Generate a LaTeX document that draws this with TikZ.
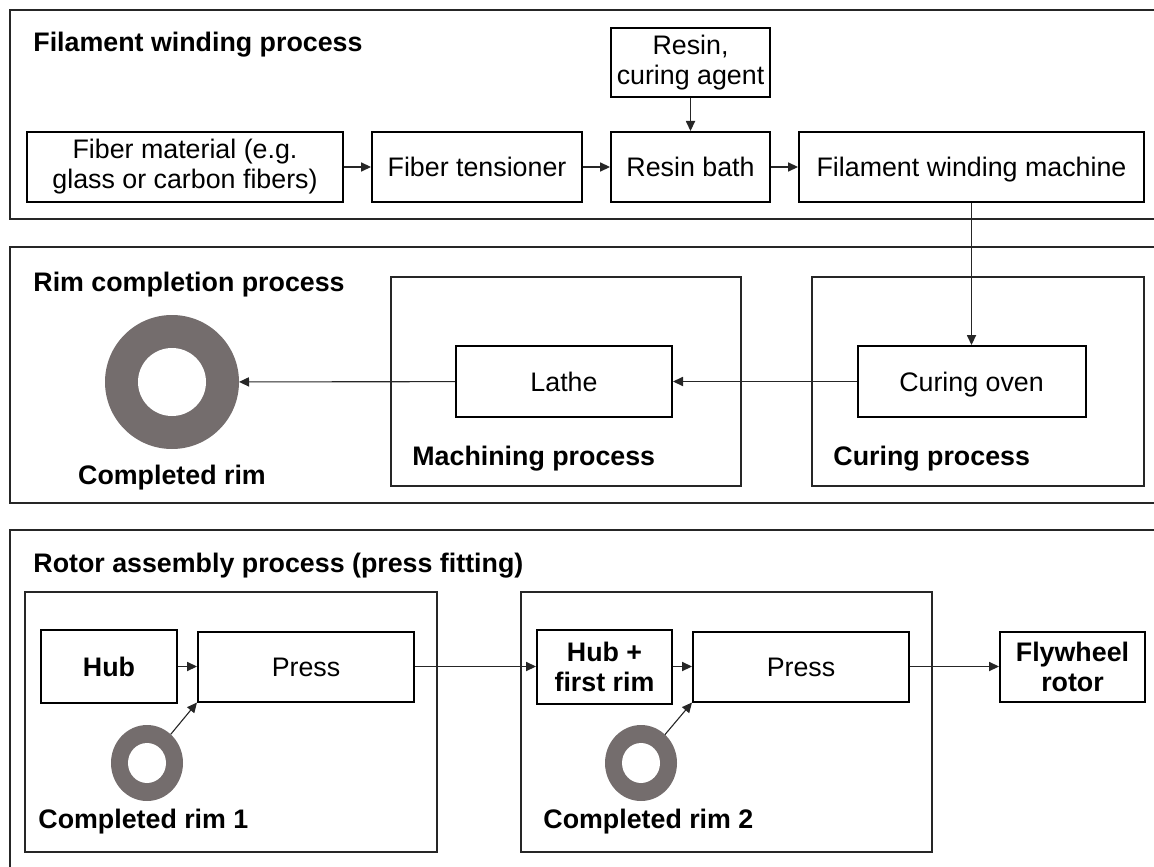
\documentclass[tikz,border=0pt]{standalone}
\usepackage{fontspec}
\setmainfont{Liberation Sans}
\usetikzlibrary{arrows.meta,positioning,shapes.geometric}
\definecolor{rimgray}{RGB}{116,109,109}

\begin{document}
\begin{tikzpicture}[
  x=0.5pt, y=-0.5pt,
  font=\fontsize{13.4}{15}\selectfont,
  box/.style={draw, line width=1pt, inner sep=2pt, align=center, minimum height=35pt},
  sbox/.style={box, text height=9.6pt, text depth=0pt},
  bbox/.style={box, font=\fontsize{13.4}{15}\selectfont\bfseries},
  hd/.style={inner sep=0pt, font=\fontsize{13.4}{15}\selectfont\bfseries},
  frm/.style={draw=black!85, line width=1pt},
  rim/.style={fill=rimgray, inner sep=0pt, outer sep=0pt},
  hole/.style={path picture={\fill[white] (path picture bounding box.center) ellipse [x radius=#1];}},
  >={Triangle[length=5pt,width=4.6pt]},
  every edge/.style={draw, ->, line width=0.55pt, black!85},
  node distance=13.5pt,
]
\useasboundingbox (0,0) rectangle (1154,866);
\clip (0,0) rectangle (1154,866);

\draw[frm] (10,10) rectangle (1170,219);
\draw[frm] (10,247) rectangle (1170,503);
\draw[frm] (10,530) rectangle (1170,900);
\draw[frm] (391,277) rectangle (741,486);
\draw[frm] (812,277) rectangle (1144,486);
\draw[frm] (25,592) rectangle (437,852);
\draw[frm] (521,592) rectangle (932,852);

\node[hd, anchor=base west] (fwtitle) at (33,52) {Filament winding process};
\node[box, minimum width=158pt] (fiber) at (185,167) {Fiber material (e.g.\\glass or carbon fibers)};
\node[sbox, minimum width=105pt, right=of fiber] (tens) {Fiber tensioner};
\node[sbox, minimum width=79.5pt, right=of tens] (bath) {Resin bath};
\node[sbox, minimum width=172.5pt, right=of bath] (fwm) {Filament winding machine};
\node[box, minimum width=79.5pt, minimum height=34.5pt, above=16.5pt of bath] (resin) {Resin,\\curing agent};
\foreach \a/\b in {fiber/tens,tens/bath,bath/fwm,resin/bath} { \draw (\a) edge (\b); }

\node[hd, anchor=base west] (rctitle) at (33,291) {Rim completion process};
\node[circle, rim, minimum size=67pt, hole={17pt, y radius=17pt}] (rimc) at (172,382) {};
\node[hd, anchor=base] (rimlbl) at (172,484) {Completed rim};
\node[sbox, minimum width=108pt, minimum height=35.5pt] (lathe) at (564,381.5) {Lathe};
\node[hd, anchor=base west] (machlbl) at (412,465) {Machining process};
\node[sbox, minimum width=114pt, minimum height=35.5pt] (oven) at (971.5,381.5) {Curing oven};
\node[hd, anchor=base west] (curelbl) at (833,465) {Curing process};
\foreach \a/\b in {fwm/oven,oven/lathe,lathe/rimc} { \draw (\a) edge (\b); }

\node[hd, anchor=base west] (ratitle) at (33,572) {Rotor assembly process (press fitting)};
\node[bbox, text height=9.6pt, text depth=0pt, minimum width=68pt, minimum height=36.5pt] (hub) at (109,666.5) {Hub};
\node[sbox, minimum width=108pt] (press1) at (306,666.5) {Press};
\node[ellipse, rim, minimum width=36pt, minimum height=38pt, hole={9.5pt, y radius=10pt}] (rim1) at (147,763) {};
\node[hd, anchor=base west] (rim1lbl) at (38,828) {Completed rim 1};
\node[bbox, minimum width=67.5pt, minimum height=37pt] (hubrim) at (604.5,666.5) {Hub +\\first rim};
\node[sbox, minimum width=108pt] (press2) at (801,666.5) {Press};
\node[ellipse, rim, minimum width=36pt, minimum height=38pt, hole={9.5pt, y radius=10pt}] (rim2) at (641,763) {};
\node[hd, anchor=base west] (rim2lbl) at (543,828) {Completed rim 2};
\node[bbox, minimum width=72.5pt] (rotor) at (1072.5,666.5) {Flywheel\\rotor};
\foreach \a/\b in {hub/press1,press1/hubrim,hubrim/press2,press2/rotor,rim1/press1.south west,rim2/press2.south west} { \draw (\a) edge (\b); }
\end{tikzpicture}
\end{document}
